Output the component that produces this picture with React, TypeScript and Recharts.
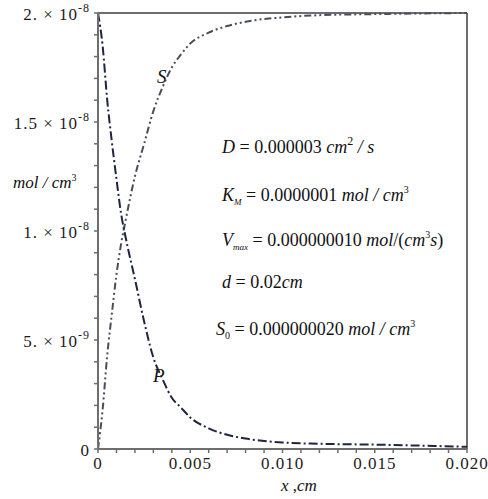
import React from "react";
import { LineChart, Line, XAxis, YAxis, ReferenceLine } from "recharts";

// x positions (cm) with S and P concentrations (mol/cm^3)
const xValues = [0, 0.00025, 0.0005, 0.00075, 0.001, 0.00125, 0.0015, 0.002, 0.0025, 0.003, 0.0035, 0.004, 0.0045, 0.005, 0.006, 0.007, 0.008, 0.01, 0.012, 0.015, 0.02];
const sValues = [0, 0.18e-8, 0.43e-8, 0.62e-8, 0.8e-8, 0.94e-8, 1.05e-8, 1.25e-8, 1.4e-8, 1.55e-8, 1.66e-8, 1.75e-8, 1.81e-8, 1.86e-8, 1.91e-8, 1.94e-8, 1.96e-8, 1.98e-8, 1.99e-8, 1.995e-8, 2.0e-8];
const pValues = [2.0e-8, 1.85e-8, 1.6e-8, 1.41e-8, 1.24e-8, 1.08e-8, 0.97e-8, 0.78e-8, 0.585e-8, 0.42e-8, 0.32e-8, 0.235e-8, 0.19e-8, 0.145e-8, 0.095e-8, 0.065e-8, 0.048e-8, 0.03e-8, 0.024e-8, 0.02e-8, 0.01e-8];

const xTicks = [0, 0.001, 0.002, 0.003, 0.004, 0.005, 0.006, 0.007, 0.008, 0.009, 0.01, 0.011, 0.012, 0.013, 0.014, 0.015, 0.016, 0.017, 0.018, 0.019, 0.02];
const xMajorTicks = [0, 0.005, 0.01, 0.015, 0.02];
const xTickLabels = ["0", "0.005", "0.010", "0.015", "0.020"];

const yTicks = [0, 1e-9, 2e-9, 3e-9, 4e-9, 5e-9, 6e-9, 7e-9, 8e-9, 9e-9, 1e-8, 1.1e-8, 1.2e-8, 1.3e-8, 1.4e-8, 1.5e-8, 1.6e-8, 1.7e-8, 1.8e-8, 1.9e-8, 2e-8];
const yMajorTicks = [0, 5e-9, 1e-8, 1.5e-8, 2e-8];
const yTickMantissas = ["0", "5.", "1.", "1.5", "2."];
const yTickExponents = ["", "-9", "-8", "-8", "-8"];

const data = xValues.map((x, i) => ({ x, S: sValues[i], P: pValues[i] }));

const FONT = '"Liberation Serif", "Times New Roman", serif';
const AXIS = "#6e6e6e";
const INK = "#1c1c1c";

const findMajor = (list: number[], v: number) =>
    list.findIndex((m) => Math.abs(m - v) < Math.max(Math.abs(m), 1e-12) * 1e-6 + 1e-14);

const XTick = (props: any) => {
    const { x, y, payload } = props;
    const i = findMajor(xMajorTicks, payload.value);
    if (i < 0) return null;
    return (
        <text x={x} y={y + 14} textAnchor="middle" fontFamily={FONT} fontSize={17} letterSpacing={1} fill={INK}>
            {xTickLabels[i]}
        </text>
    );
};

const YTick = (props: any) => {
    const { x, y, payload } = props;
    const i = findMajor(yMajorTicks, payload.value);
    if (i < 0) return null;
    const exp = yTickExponents[i];
    return (
        <text x={x - 2} y={y + 7} textAnchor="end" fontFamily={FONT} fontSize={17} letterSpacing={1} fill={INK} style={{ whiteSpace: "pre" }}>
            {exp ? (
                <>
                    <tspan>{yTickMantissas[i] + " \u00d7 10"}</tspan>
                    <tspan dy={-8} fontSize={12}>{exp}</tspan>
                </>
            ) : (
                <tspan>{yTickMantissas[i]}</tspan>
            )}
        </text>
    );
};

const it = { fontStyle: "italic" as const };

export default function App() {
    return (
        <div style={{ position: "absolute", left: 0, top: 0, width: 488, height: 499, background: "#fff" }}>
            <LineChart width={488} height={499} data={data} margin={{ top: 13, right: 21, bottom: 0, left: 0 }}>
                <XAxis
                    dataKey="x"
                    type="number"
                    domain={[0, 0.02]}
                    ticks={xTicks}
                    interval={0}
                    height={50}
                    stroke={AXIS}
                    strokeWidth={2}
                    tickSize={4}
                    tickLine={{ stroke: AXIS, strokeWidth: 1.5 }}
                    tick={<XTick />}
                />
                <YAxis
                    type="number"
                    domain={[0, 2e-8]}
                    ticks={yTicks}
                    interval={0}
                    width={98}
                    stroke={AXIS}
                    strokeWidth={2}
                    tickSize={4}
                    tickLine={{ stroke: AXIS, strokeWidth: 1.5 }}
                    tick={<YTick />}
                />
                <ReferenceLine x={0.02} stroke={AXIS} strokeWidth={2} />
                <ReferenceLine y={2e-8} stroke={AXIS} strokeWidth={2} />
                <Line
                    type="monotone"
                    dataKey="S"
                    stroke="#4b4d5a"
                    strokeWidth={2}
                    strokeDasharray="7 3 2 3 2 3"
                    dot={false}
                    isAnimationActive={false}
                />
                <Line
                    type="monotone"
                    dataKey="P"
                    stroke="#1f2440"
                    strokeWidth={2}
                    strokeDasharray="9 3 2 3"
                    dot={false}
                    isAnimationActive={false}
                />
                <g fontFamily={FONT} fill="#111" style={{ whiteSpace: "pre" }}>
                    <text x={157} y={83} fontSize={19} {...it}>S</text>
                    <text x={153} y={382} fontSize={19} {...it}>P</text>
                    <text x={13} y={188} fontSize={17}>
                        <tspan {...it}>mol / cm</tspan>
                        <tspan dy={-7} fontSize={10}>3</tspan>
                    </text>
                    <text x={281} y={491} fontSize={17}>
                        <tspan {...it}>x</tspan>
                        <tspan>{" ,"}</tspan>
                        <tspan {...it}>cm</tspan>
                    </text>
                    <text x={222} y={153} fontSize={18}>
                        <tspan {...it}>D</tspan>
                        <tspan>{" = 0.000003 "}</tspan>
                        <tspan {...it}>cm</tspan>
                        <tspan dy={-8} fontSize={12}>2</tspan>
                        <tspan dy={8} {...it}>{" / s"}</tspan>
                    </text>
                    <text x={222} y={201} fontSize={18}>
                        <tspan {...it}>K</tspan>
                        <tspan dy={4} fontSize={9} {...it}>M</tspan>
                        <tspan dy={-4}>{"  = 0.0000001 "}</tspan>
                        <tspan {...it}>mol / cm</tspan>
                        <tspan dy={-8} fontSize={10}>3</tspan>
                    </text>
                    <text x={222} y={246} fontSize={18}>
                        <tspan {...it}>V</tspan>
                        <tspan dy={4} fontSize={9} {...it}>max</tspan>
                        <tspan dy={-4}>{"  = 0.000000010 "}</tspan>
                        <tspan {...it}>mol</tspan>
                        <tspan>/(</tspan>
                        <tspan {...it}>cm</tspan>
                        <tspan dy={-8} fontSize={10}>3</tspan>
                        <tspan dy={8} {...it}>s</tspan>
                        <tspan>)</tspan>
                    </text>
                    <text x={222} y={288} fontSize={18}>
                        <tspan {...it}>d</tspan>
                        <tspan>{" = 0.02"}</tspan>
                        <tspan {...it}>cm</tspan>
                    </text>
                    <text x={216} y={335} fontSize={18}>
                        <tspan {...it}>S</tspan>
                        <tspan dy={4} fontSize={10}>0</tspan>
                        <tspan dy={-4}>{" = 0.000000020 "}</tspan>
                        <tspan {...it}>mol / cm</tspan>
                        <tspan dy={-8} fontSize={10}>3</tspan>
                    </text>
                </g>
            </LineChart>
        </div>
    );
}
